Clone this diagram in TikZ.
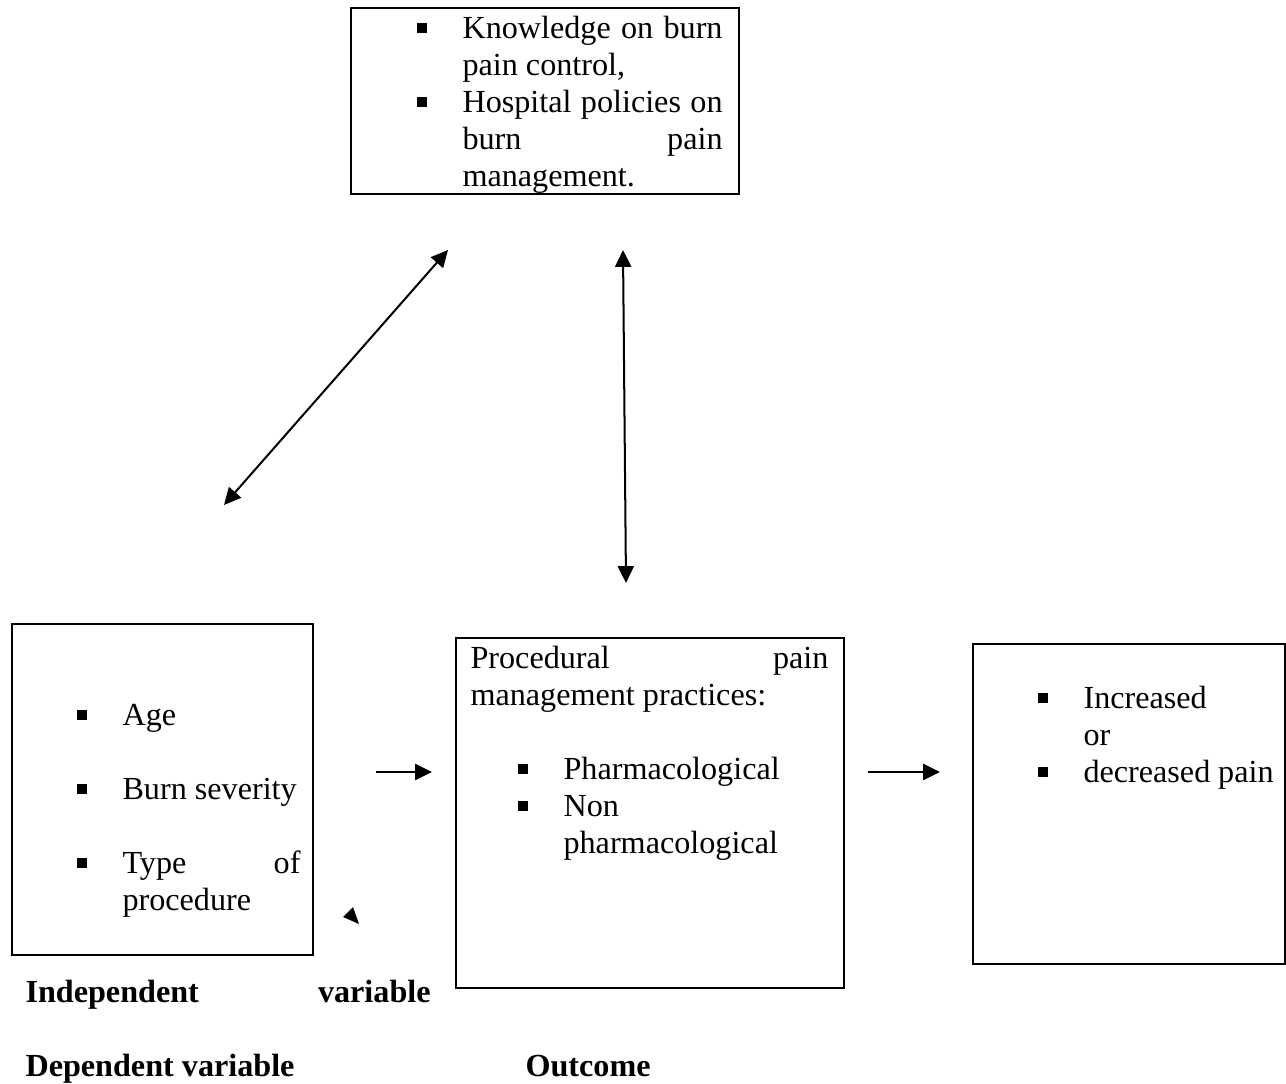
\documentclass[tikz,border=0pt]{standalone}
\usepackage{fontspec}
\setmainfont{Liberation Serif}
\usetikzlibrary{arrows.meta}

\newcommand{\bodyfont}{\fontsize{12}{13.8}\selectfont\hyphenpenalty=10000\tolerance=10000\hbadness=10000\parindent=0pt}
\newcommand{\sqitem}{\leavevmode\llap{\rule[2.2pt]{3.7pt}{3.7pt}\hspace{13.4pt}}\strut}

\tikzset{
    box/.style={draw, line width=0.75pt, inner sep=0pt, anchor=north west},
    boxtext/.style={anchor=north west, inner sep=0pt, align=justify, font=\bodyfont},
    caption/.style={anchor=base west, inner sep=0pt, font={\bodyfont\bfseries}},
    onetip/.style={line width=0.75pt, -{Triangle[length=6.3pt,width=6pt]}},
    twotip/.style={line width=0.75pt, {Triangle[length=6.3pt,width=6pt]}-{Triangle[length=6.3pt,width=6pt]}}
}

\begin{document}
\begin{tikzpicture}[x=0.373pt, y=-0.373pt]
    \useasboundingbox (0,0) rectangle (1286,1084);

    % Boxes
    \node[box, minimum width=144.7pt, minimum height=69.4pt] (know) at (350,7) {};
    \node[box, minimum width=112.3pt, minimum height=123.5pt] (risk) at (11,623) {};
    \node[box, minimum width=144.7pt, minimum height=130.6pt] (prac) at (455,637) {};
    \node[box, minimum width=116.4pt, minimum height=119.4pt] (outc) at (972,643) {};

    % Box texts
    \node[boxtext, text width=97pt] (knowtext) at (462,12)
        {\sqitem Knowledge on burn pain control,\par
         \sqitem Hospital policies on burn pain management.};
    \node[boxtext, text width=66.4pt] (risktext) at (122,699)
        {\sqitem Age\par\vspace{\baselineskip}
         \sqitem Burn severity\par\vspace{\baselineskip}
         \sqitem Type of procedure};
    \node[boxtext, text width=133.5pt] (practext) at (470,642)
        {\strut Procedural pain management practices:\par\vspace{\baselineskip}
         \leftskip=34.7pt
         \sqitem Pharmacological\par
         \sqitem Non\newline pharmacological\par};
    \node[boxtext, text width=70.9pt] (outctext) at (1083,682)
        {\sqitem Increased\newline or\par
         \sqitem decreased pain};

    % Captions
    \node[caption] (indep) at (25,1003) {\makebox[151.1pt][s]{Independent variable}};
    \node[caption] (dep) at (25,1077) {Dependent variable};
    \node[caption] (outcome) at (525,1077) {Outcome};

    % Arrows
    \coordinate (diagtop) at (448,250);
    \coordinate (diagbot) at (224,505);
    \coordinate (verttop) at (623,250);
    \coordinate (vertbot) at (626,583);
    \coordinate (leftstart) at (376,772);
    \coordinate (leftend) at (432,772);
    \coordinate (rightstart) at (868,772);
    \coordinate (rightend) at (940,772);
    \draw[twotip] (diagbot) -- (diagtop);
    \draw[twotip] (vertbot) -- (verttop);
    \draw[onetip] (leftstart) -- (leftend);
    \draw[onetip] (rightstart) -- (rightend);

    % loose arrow head
    \fill (343,917) -- (353,907) -- (359,924) -- cycle;
\end{tikzpicture}
\end{document}
